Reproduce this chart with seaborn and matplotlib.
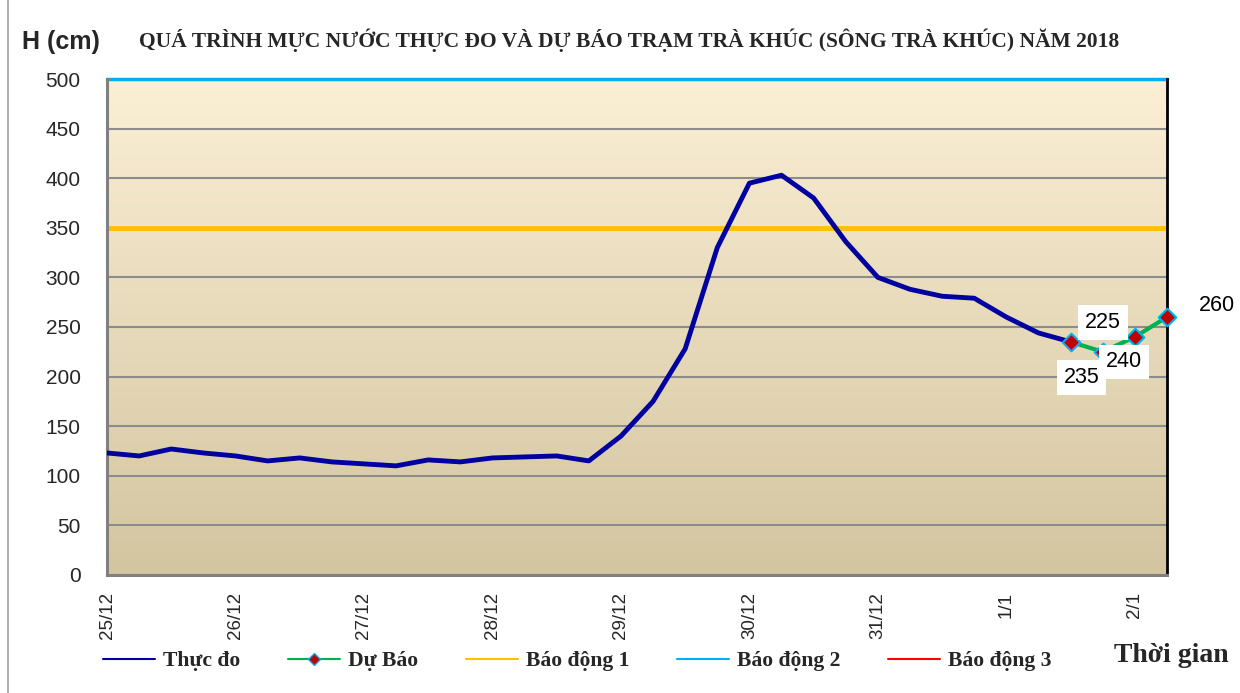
import matplotlib
matplotlib.use('Agg')
import matplotlib.pyplot as plt
import seaborn as sns
import numpy as np
from matplotlib.lines import Line2D

# 6-hourly steps starting 25/12 00h
obs_x = list(range(31))
obs_h = [123, 120, 127, 123, 120, 115, 118, 114, 112, 110, 116, 114, 118, 119, 120, 115,
         140, 175, 228, 330, 395, 403, 380, 336, 300, 288, 281, 279, 260, 244, 235]
fc_x = [30, 31, 32, 33]
fc_h = [235, 225, 240, 260]
day_labels = ['25/12', '26/12', '27/12', '28/12', '29/12', '30/12', '31/12', '1/1', '2/1']
bd1, bd2 = 350, 500

sns.set_theme(style='white')
plt.rcParams['font.family'] = ['Liberation Sans', 'DejaVu Sans']

fig = plt.figure(figsize=(12.4, 6.93), dpi=100)
ax = fig.add_axes([0.0863, 0.1703, 0.8548, 0.7157])

# background gradient
top = np.array([251, 239, 213]) / 255
bot = np.array([211, 197, 160]) / 255
t = np.linspace(0, 1, 256)[:, None]
grad = (top * (1 - t) + bot * t)[:, None, :]
ax.imshow(grad, extent=[0, 1, 0, 1], transform=ax.transAxes, aspect='auto', zorder=0)

ax.set_xlim(0, 33)
ax.set_ylim(0, 500)
ax.set_yticks(range(0, 501, 50))
ax.grid(axis='y', color='#8c8c8c', lw=1.5, zorder=1)

ax.axhline(bd1, color='#FFC000', lw=3.5, zorder=2)
ax.axhline(bd2, color='#00B0F0', lw=2.5, zorder=2, clip_on=False)

sns.lineplot(x=obs_x, y=obs_h, ax=ax, color='#0000A0', lw=3.5, zorder=4,
             solid_joinstyle='round', solid_capstyle='round')
sns.lineplot(x=fc_x, y=fc_h, ax=ax, color='#00B050', lw=3, zorder=3)
ax.scatter(fc_x, fc_h, marker='D', s=80, color='#C00000', edgecolor='#00B0F0',
           lw=1.5, zorder=5, clip_on=False)

# label offsets in pixels (x right, y up)
offsets = [(11, -36), (0, 29), (-11, -25), (50, 12)]
for x, h, (dx, dy) in zip(fc_x, fc_h, offsets):
    box = dict(facecolor='white', edgecolor='none', pad=5) if dx != 50 else None
    ax.annotate(str(h), (x, h), xytext=(dx, dy), textcoords='offset pixels',
                ha='center', va='center', fontsize=15.5, color='black',
                bbox=box, zorder=6, annotation_clip=False)

ax.set_xticks(range(0, 33, 4))
ax.set_xticklabels(day_labels, rotation=90)
ax.set_xticks(range(0, 34), minor=True)
ax.tick_params(axis='x', which='both', direction='in', length=6, color='#808080',
               width=1.5, pad=12, labelsize=13.5)
ax.tick_params(axis='y', direction='out', length=7, color='#808080', width=1.5,
               pad=12, labelsize=15)

for s in ['left', 'bottom']:
    ax.spines[s].set_color('#808080')
    ax.spines[s].set_linewidth(2.2)
ax.spines['right'].set_color('black')
ax.spines['right'].set_linewidth(2)
ax.spines['top'].set_visible(False)
ax.set_xlabel('')
ax.set_ylabel('')

fig.text(0.0177, 0.94, 'H (cm)', fontsize=18, fontweight='bold', va='center')
fig.text(0.507, 0.942, 'QUÁ TRÌNH MỰC NƯỚC THỰC ĐO VÀ DỰ BÁO TRẠM TRÀ KHÚC (SÔNG TRÀ KHÚC) NĂM 2018',
         family='Liberation Serif', fontsize=15.5, fontweight='bold', ha='center', va='center')
fig.text(0.945, 0.054, 'Thời gian', family='Liberation Serif', fontsize=20,
         fontweight='bold', ha='center', va='center')

handles = [
    Line2D([], [], color='#0000A0', lw=1.5),
    Line2D([], [], color='#00B050', lw=1.5, marker='D', markersize=6,
           markerfacecolor='#C00000', markeredgecolor='#00B0F0'),
    Line2D([], [], color='#FFC000', lw=1.5),
    Line2D([], [], color='#00B0F0', lw=1.5),
    Line2D([], [], color='#FF0000', lw=1.5),
]
names = ['Thực đo', 'Dự Báo', 'Báo động 1', 'Báo động 2', 'Báo động 3']
fig.legend(handles, names, ncol=5, loc='center left', bbox_to_anchor=(0.0742, 0.046),
           frameon=False, handlelength=2.4, handletextpad=0.37, columnspacing=2.2,
           borderpad=0, prop={'family': 'Liberation Serif', 'weight': 'bold', 'size': 15.6})

fig.add_artist(Line2D([8 / 1240, 8 / 1240], [0, 1], color='#a0a0a0', lw=1.2,
                      transform=fig.transFigure))

fig.savefig('out.png', dpi=100)
plt.close(fig)
